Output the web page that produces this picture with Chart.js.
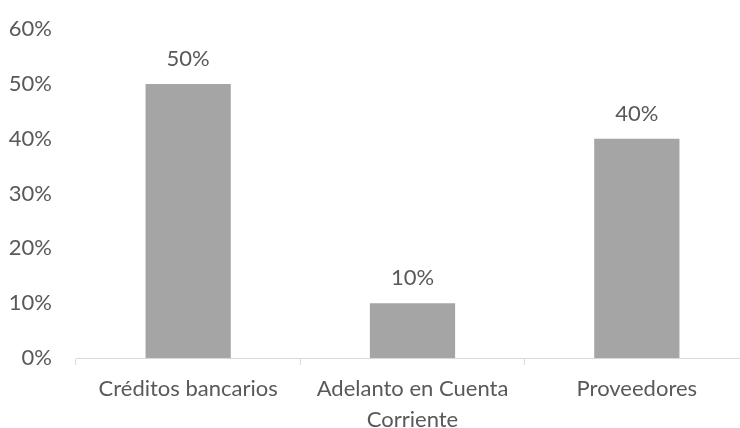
<!DOCTYPE html>
<html>
<head>
<meta charset="utf-8">
<script src="https://cdn.jsdelivr.net/npm/chart.js@4"></script>
<style>
  html, body { margin: 0; padding: 0; background: #fff; overflow: hidden; }
  #wrap { width: 750px; height: 428px; }
</style>
</head>
<body>
<div id="wrap"><canvas id="barras"></canvas></div>
<script>
const categorias = ["Créditos bancarios", ["Adelanto en Cuenta", "Corriente"], "Proveedores"];
const valores = [50, 10, 40];
const ticksY = [0, 10, 20, 30, 40, 50, 60];

const gris = "#595959";
const fuente = { family: "Lato", size: 22 };

// etiquetas de valor encima de cada barra
const etiquetas = {
  id: "etiquetas",
  afterDatasetsDraw(chart) {
    const ctx = chart.ctx;
    const meta = chart.getDatasetMeta(0);
    ctx.save();
    ctx.fillStyle = gris;
    ctx.font = fuente.size + "px " + fuente.family;
    ctx.textAlign = "center";
    ctx.textBaseline = "alphabetic";
    meta.data.forEach((bar, i) => {
      ctx.fillText(valores[i] + "%", bar.x, bar.y - 18);
    });
    ctx.restore();
  },
};

const ctx = document.getElementById("barras").getContext("2d");
const grafico = new Chart(ctx, {
  type: "bar",
  data: {
    labels: categorias,
    datasets: [
      {
        data: valores,
        backgroundColor: "#A5A5A5",
        borderWidth: 0,
        barPercentage: 0.38,
        categoryPercentage: 1,
      },
    ],
  },
  options: {
    responsive: true,
    maintainAspectRatio: false,
    animation: false,
    layout: { padding: { top: 21, left: 0, right: 1, bottom: 0 } },
    plugins: {
      legend: { display: false },
      tooltip: { enabled: false },
    },
    scales: {
      x: {
        grid: {
          display: true,
          drawOnChartArea: false,
          drawTicks: true,
          tickLength: 7,
          color: "#D9D9D9",
          offset: true,
        },
        border: { display: true, color: "#D9D9D9", width: 1 },
        ticks: {
          color: gris,
          font: { family: fuente.family, size: fuente.size, lineHeight: 1.4 },
          padding: 9,
          maxRotation: 0,
        },
        afterFit(scale) {
          scale.height = 70;
        },
      },
      y: {
        min: 0,
        max: 60,
        grid: { display: false },
        border: { display: false },
        afterBuildTicks(scale) {
          scale.ticks = ticksY.map((v) => ({ value: v }));
        },
        ticks: {
          color: gris,
          font: fuente,
          padding: 16,
          callback: (v) => v + "%",
        },
        afterFit(scale) {
          scale.width = 76;
        },
      },
    },
  },
  plugins: [etiquetas],
});
</script>
</body>
</html>
